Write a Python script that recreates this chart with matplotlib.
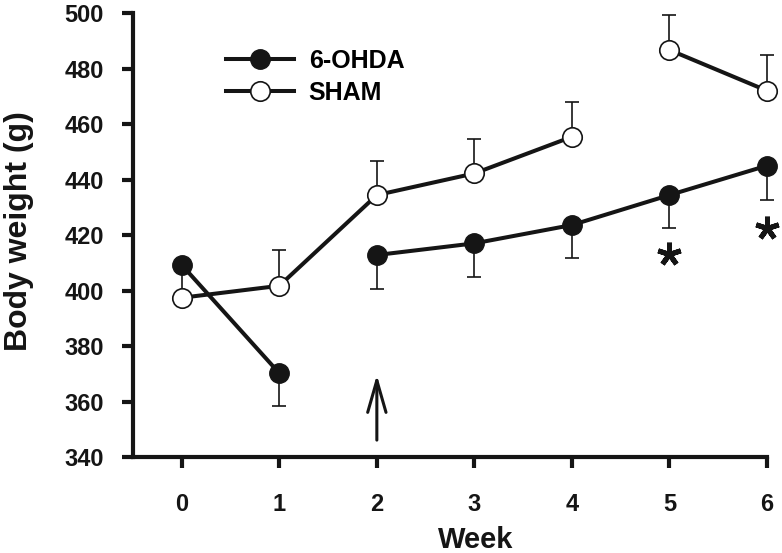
import numpy as np
import matplotlib
matplotlib.use("Agg")
import matplotlib.pyplot as plt

plt.rcParams['font.family'] = ['Liberation Sans', 'DejaVu Sans']
plt.rcParams['font.weight'] = 'bold'

# data
weeks = [0, 1, 2, 3, 4, 5, 6]
ohda_mean = [409.3, 370.3, 412.9, 417.1, 423.7, 434.5, 445.1]
ohda_sem = [10.0, 11.7, 12.3, 12.0, 11.8, 11.8, 12.4]   # drawn downward
sham_mean = [397.5, 401.8, 434.5, 442.3, 455.5, 486.8, 472.1]
sham_sem = [0.0, 13.0, 12.3, 12.3, 12.4, 12.6, 12.9]    # drawn upward

# connected runs (start, stop) of each series
ohda_runs = [(0, 2), (2, 7)]
sham_runs = [(0, 5), (5, 7)]

star_weeks = [5, 6]
star_y = [413.3, 422.6]
arrow_week = 2
arrow_from, arrow_to = 346.2, 369.7

ink = '#151515'

fig = plt.figure(figsize=(7.82, 5.53), dpi=100)
ax = fig.add_axes([133 / 782, 1 - 457.3 / 553, 634 / 782, 444 / 553])

x = np.array(weeks, dtype=float)
om = np.array(ohda_mean)
sm = np.array(sham_mean)

# error bars (one-sided)
ax.errorbar(x, om, yerr=[ohda_sem, np.zeros(len(x))], fmt='none', ecolor=ink,
            elinewidth=1.2, capsize=4.7, capthick=1.2, zorder=2, clip_on=False)
ax.errorbar(x, sm, yerr=[np.zeros(len(x)), sham_sem], fmt='none', ecolor=ink,
            elinewidth=1.2, capsize=4.7, capthick=1.2, zorder=2, clip_on=False)

handles = []
for i, (a, b) in enumerate(ohda_runs):
    ln, = ax.plot(x[a:b], om[a:b], '-o', color=ink, lw=2.9, ms=14,
                  mfc=ink, mec=ink, zorder=3, clip_on=False)
    if i == 0:
        handles.append(ln)
for i, (a, b) in enumerate(sham_runs):
    ln, = ax.plot(x[a:b], sm[a:b], '-o', color=ink, lw=2.9, ms=14,
                  mfc='white', mec=ink, mew=1.2, zorder=4, clip_on=False)
    if i == 0:
        handles.append(ln)

# significance marks
ax.plot(star_weeks, star_y, ls='none', marker=(5, 2, 0), ms=17, mew=3.6,
        color=ink, clip_on=False)

# arrow marking week 2
ax.annotate('', xy=(arrow_week, arrow_to), xytext=(arrow_week, arrow_from),
            arrowprops=dict(arrowstyle='->,head_length=1.15,head_width=0.33',
                            mutation_scale=20, lw=2.2, color=ink,
                            shrinkA=0, shrinkB=0))

ax.set_xlim(-0.5, 6)
ax.set_ylim(340, 500)
ax.set_xticks(weeks)
ax.set_yticks(np.arange(340, 501, 20))

for s in ['top', 'right']:
    ax.spines[s].set_visible(False)
for s in ['left', 'bottom']:
    ax.spines[s].set_linewidth(3)
    ax.spines[s].set_color(ink)

ax.tick_params(axis='both', direction='out', length=8, width=3, color=ink,
               labelsize=17, labelcolor=ink)
ax.tick_params(axis='y', pad=13)
ax.tick_params(axis='x', pad=18)

fig.text(19 / 782, 1 - 231 / 553, 'Body weight (g)', rotation=90,
         ha='center', va='center', fontsize=23, fontweight='bold', color=ink)
fig.text(476 / 782, 1 - 548.3 / 553, 'Week', ha='center', va='baseline',
         fontsize=21, fontweight='bold', color=ink)

ax.legend(handles, ['6-OHDA', 'SHAM'], loc='center left',
          bbox_to_anchor=(0.147, 0.857), frameon=False, fontsize=18,
          handlelength=2.7, handletextpad=0.6, labelspacing=0.3,
          borderpad=0, borderaxespad=0)

fig.savefig('out.png', dpi=100)
